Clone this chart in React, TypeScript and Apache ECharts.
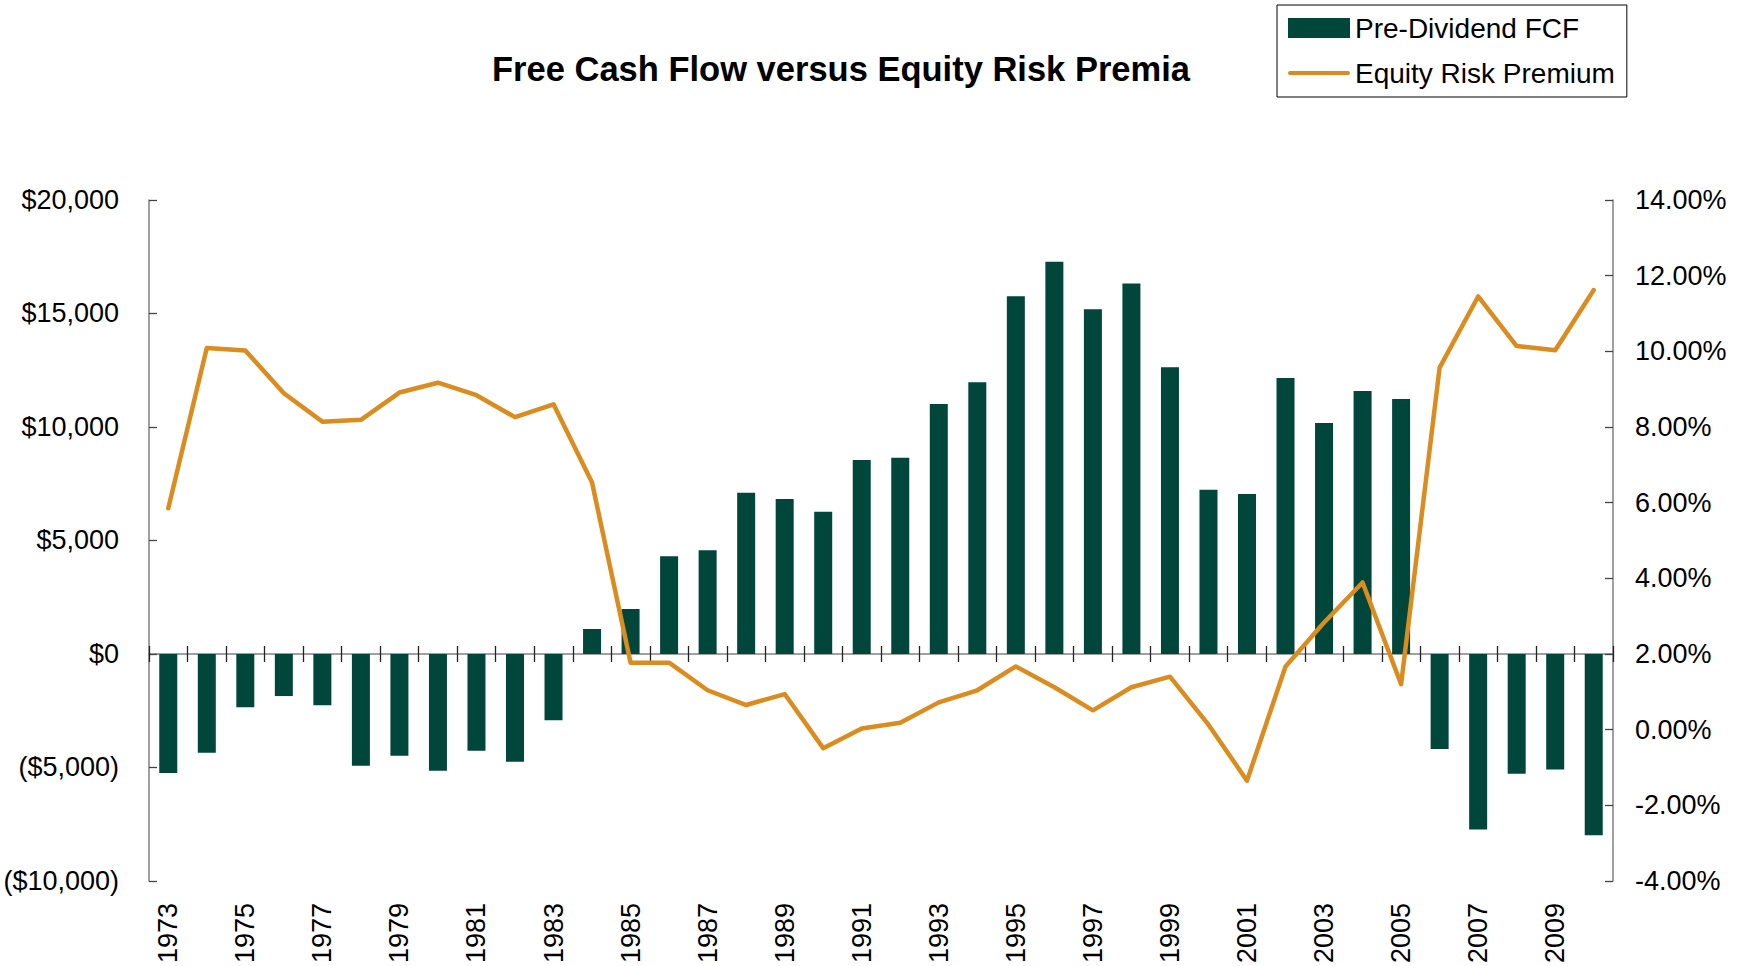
import React, { useEffect, useRef } from "react";
import * as echarts from "echarts";

const years = [
  "1973", "1974", "1975", "1976", "1977", "1978", "1979", "1980", "1981", "1982",
  "1983", "1984", "1985", "1986", "1987", "1988", "1989", "1990", "1991", "1992",
  "1993", "1994", "1995", "1996", "1997", "1998", "1999", "2000", "2001", "2002",
  "2003", "2004", "2005", "2006", "2007", "2008", "2009", "2010",
];

const preDividendFCF = [
  -5240, -4350, -2345, -1855, -2256, -4927, -4482, -5150, -4259, -4749,
  -2923, 1100, 1980, 4300, 4566, 7100, 6831, 6260, 8547, 8648,
  11015, 11974, 15757, 17283, 15185, 16324, 12629, 7236, 7051, 12158,
  10175, 11587, 11235, -4190, -7730, -5280, -5090, -7990,
];

const equityRiskPremium = [
  5.85, 10.09, 10.02, 8.89, 8.14, 8.19, 8.91, 9.17, 8.84, 8.26,
  8.6, 6.53, 1.77, 1.77, 1.04, 0.65, 0.94, -0.49, 0.03, 0.18,
  0.72, 1.04, 1.67, 1.12, 0.51, 1.12, 1.4, 0.13, -1.35, 1.67,
  2.83, 3.89, 1.2, 9.57, 11.45, 10.14, 10.03, 11.62,
];

const leftTickLabels = ["($10,000)", "($5,000)", "$0", "$5,000", "$10,000", "$15,000", "$20,000"];
const rightTickLabels = ["-4.00%", "-2.00%", "0.00%", "2.00%", "4.00%", "6.00%", "8.00%", "10.00%", "12.00%", "14.00%"];

const FONT = "'Liberation Sans', Arial, sans-serif";
const BAR_COLOR = "#01463A";
const LINE_COLOR = "#DA8C1F";

export default function App() {
  const ref = useRef<HTMLDivElement>(null);

  useEffect(() => {
    if (!ref.current) return;
    const chart = echarts.init(ref.current, undefined, { renderer: "svg" });
    const leftMin = -10000;
    const leftInt = 5000;
    const rightMin = -4;
    const rightInt = 2;
    chart.setOption({
      animation: false,
      backgroundColor: "#ffffff",
      textStyle: { fontFamily: FONT },
      graphic: [
        {
          type: "text",
          x: 841,
          y: 69,
          style: {
            text: "Free Cash Flow versus Equity Risk Premia",
            font: `bold 34.5px ${FONT}`,
            fill: "#000",
            textAlign: "center",
            textVerticalAlign: "middle",
          },
        },
      ],
      legend: {
        orient: "vertical",
        left: 1277,
        top: 5,
        padding: [9, 12, 10, 11],
        itemGap: 17,
        itemWidth: 62,
        itemHeight: 20,
        borderColor: "#000",
        borderWidth: 1,
        textStyle: { fontSize: 28, color: "#000", fontFamily: FONT },
        data: [
          { name: "Pre-Dividend FCF", icon: "rect" },
          {
            name: "Equity Risk Premium",
            icon: "path://M2,0 H60 A2,2 0 0 1 60,4 H2 A2,2 0 0 1 2,0 Z",
            itemStyle: { color: LINE_COLOR },
          },
        ],
      },
      grid: { left: 149, right: 132, top: 200, bottom: 84, containLabel: false },
      xAxis: [
        {
          type: "category",
          data: years,
          position: "bottom",
          axisLine: { show: false, onZero: false },
          axisTick: { show: false },
          axisLabel: {
            rotate: 90,
            interval: 1,
            margin: 22,
            fontSize: 27,
            color: "#000",
            fontFamily: FONT,
          },
          splitLine: { show: false },
        },
        {
          type: "category",
          data: years,
          position: "bottom",
          axisLine: { show: true, onZero: true, onZeroAxisIndex: 0, lineStyle: { color: "#808080", width: 1.5 } },
          axisTick: { show: true, interval: 0, length: 8, lineStyle: { color: "#222", width: 1.3 } },
          axisLabel: { show: false },
          splitLine: { show: false },
        },
        {
          type: "category",
          data: years,
          position: "top",
          axisLine: { show: false, onZero: true, onZeroAxisIndex: 0 },
          axisTick: { show: true, interval: 0, length: 8, lineStyle: { color: "#222", width: 1.3 } },
          axisLabel: { show: false },
          splitLine: { show: false },
        },
      ],
      yAxis: [
        {
          type: "value",
          position: "left",
          min: leftMin,
          max: 20000,
          interval: leftInt,
          axisLine: { show: true, lineStyle: { color: "#808080", width: 1.5 } },
          axisTick: { show: true, inside: true, length: 8, lineStyle: { color: "#444", width: 1.3 } },
          axisLabel: {
            margin: 30,
            fontSize: 27,
            color: "#000",
            fontFamily: FONT,
            formatter: (v: number) => leftTickLabels[Math.round((v - leftMin) / leftInt)] ?? "",
          },
          splitLine: { show: false },
        },
        {
          type: "value",
          position: "right",
          min: rightMin,
          max: 14,
          interval: rightInt,
          axisLine: { show: true, lineStyle: { color: "#808080", width: 1.5 } },
          axisTick: { show: true, inside: true, length: 8, lineStyle: { color: "#444", width: 1.3 } },
          axisLabel: {
            margin: 22,
            fontSize: 27,
            color: "#000",
            fontFamily: FONT,
            formatter: (v: number) => rightTickLabels[Math.round((v - rightMin) / rightInt)] ?? "",
          },
          splitLine: { show: false },
        },
      ],
      series: [
        {
          name: "Pre-Dividend FCF",
          type: "bar",
          xAxisIndex: 0,
          yAxisIndex: 0,
          data: preDividendFCF,
          barWidth: 18,
          itemStyle: { color: BAR_COLOR },
        },
        {
          name: "Equity Risk Premium",
          type: "line",
          xAxisIndex: 0,
          yAxisIndex: 1,
          data: equityRiskPremium,
          symbol: "none",
          lineStyle: { color: LINE_COLOR, width: 4.5, join: "round", cap: "round" },
          itemStyle: { color: LINE_COLOR },
          z: 5,
        },
      ],
    });
    return () => chart.dispose();
  }, []);

  return (
    <div
      ref={ref}
      style={{ position: "fixed", left: 0, top: 0, width: 1745, height: 966, background: "#fff" }}
    />
  );
}
